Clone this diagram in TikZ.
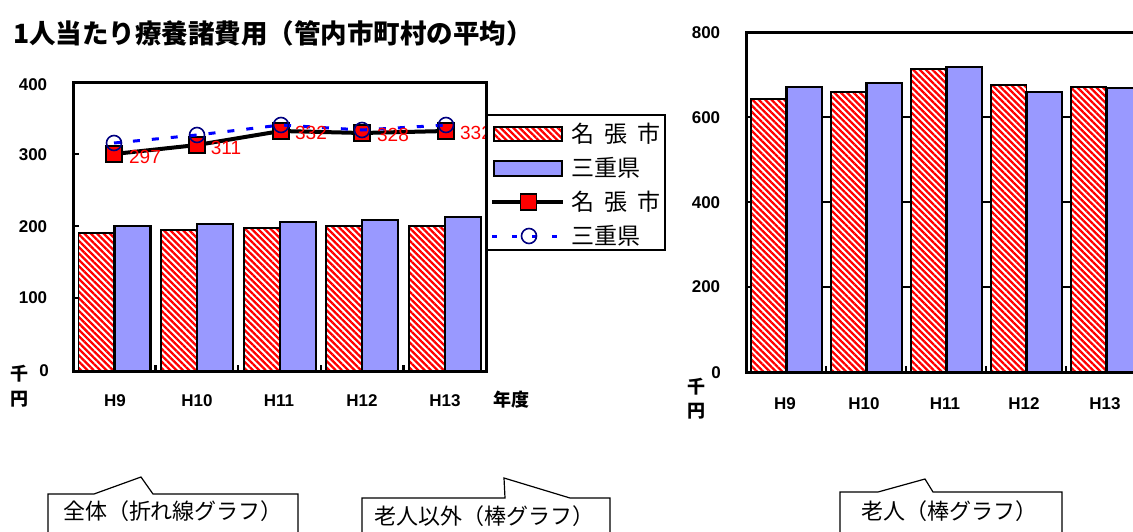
\documentclass[tikz,border=0pt]{standalone}
\usepackage{fontspec}
\usetikzlibrary{patterns.meta}
\newfontfamily\jp{Noto Sans CJK JP}
\newfontfamily\lab{Liberation Sans}
\definecolor{barblue}{HTML}{9999FF}
\definecolor{navyc}{HTML}{000080}
\tikzset{
  redbar/.style={preaction={fill=white}, pattern={Lines[angle=-45,distance=4.5pt,line width=2.3pt]}, pattern color=red, draw=black, line width=1.8pt},
  bluebar/.style={fill=barblue, draw=black, line width=2.2pt},
  axisline/.style={line width=3pt, line cap=rect},
  ticklab/.style={font=\lab\bfseries\fontsize{17}{17}\selectfont, inner sep=0},
  jplab/.style={font=\jp\bfseries\fontsize{18}{18}\selectfont, inner sep=0},
  datalab/.style={font=\lab\fontsize{19}{19}\selectfont, text=red, inner sep=0},
  legtext/.style={font=\jp\fontsize{23}{23}\selectfont, inner sep=0, anchor=west},
  callbox/.style={draw=black, line width=1.2pt, fill=white},
  calltext/.style={font=\jp\fontsize{22}{22}\selectfont, inner sep=0},
  sqmark/.style={rectangle, draw=black, fill=red, minimum size=16pt, inner sep=0, line width=1.8pt},
  circmark/.style={circle, draw=navyc, line width=1.6pt, minimum size=15pt, inner sep=0},
  blueline/.style={blue, line width=3pt, dash pattern=on 7pt off 12pt},
}
\begin{document}
\begin{tikzpicture}[x=1pt,y=-1pt]
\useasboundingbox (0,0) rectangle (1133,531);

% title
\node[font=\jp\bfseries\fontsize{26.5}{26.5}\selectfont, anchor=west, inner sep=0] (title) at (13,33) {1人当たり療養諸費用（管内市町村の平均）};

% ---------------- left chart ----------------
\foreach \i/\r/\b in {0/233/226,1/230/224,2/228/222,3/226/220,4/226/217}{
  \pgfmathsetmacro\xa{73+82.6*\i+5.5}
  \path[redbar] (\xa,371) rectangle (\xa+36,\r);
  \path[bluebar] (\xa+36,371) rectangle (\xa+72,\b);
}
\foreach \y in {154,226,298}{\draw[line width=2.5pt] (73,\y) -- (79,\y);}
\foreach \x in {155.6,238.2,320.8,403.4}{\draw[line width=2.5pt] (\x,371) -- (\x,365);}

% line series
\coordinate (n1) at (114,154); \coordinate (n2) at (197,145); \coordinate (n3) at (281,131);
\coordinate (n4) at (362,133); \coordinate (n5) at (446,131);
\coordinate (m1) at (114,143); \coordinate (m2) at (197,135); \coordinate (m3) at (281,125);
\coordinate (m4) at (362,130); \coordinate (m5) at (446,125);
\draw[line width=4pt] (n1) -- (n2) -- (n3) -- (n4) -- (n5);
\foreach \k in {1,...,5}{\node[sqmark] (sq\k) at (n\k) {};}
\draw[blueline] (m1) -- (m2) -- (m3) -- (m4) -- (m5);
\foreach \k in {1,...,5}{\node[circmark] (ci\k) at (m\k) {};}

\node[datalab] (d1) at (145,157) {297};
\node[datalab] (d2) at (226,148) {311};
\node[datalab] (d3) at (311,133) {332};
\node[datalab] (d4) at (393,135) {328};
\node[datalab] (d5) at (476,133) {332};

% frame
\draw[axisline] (73,82) rectangle (486,371);

% legend
\path[draw=black, line width=2pt, fill=white] (486,115) rectangle (665,250);
\draw[axisline] (486,82) -- (486,371);
\path[redbar] (494,127) rectangle (562,141);
\path[bluebar] (494,161) rectangle (562,176);
\draw[line width=4pt] (492,202) -- (563,202);
\node[sqmark] (lsq) at (528.5,202) {};
\draw[blue, line width=3pt, dash pattern=on 5pt off 15pt] (492,236) -- (563,236);
\node[circmark] (lci) at (529,236) {};
\node[legtext] (lt1) at (571,134) {名\hspace{10pt}張\hspace{10pt}市};
\node[legtext] (lt2) at (571,168) {三重県};
\node[legtext] (lt3) at (571,202) {名\hspace{10pt}張\hspace{10pt}市};
\node[legtext] (lt4) at (571,236) {三重県};

% left axis labels
\node[ticklab] (y400) at (33,85) {400};
\node[ticklab] (y300) at (33,155) {300};
\node[ticklab] (y200) at (33,227) {200};
\node[ticklab] (y100) at (33,298) {100};
\node[ticklab] (y0) at (44,371) {0};
\node[jplab] (sen1) at (19,374) {千};
\node[jplab] (en1) at (19,399) {円};
\node[ticklab] (h9) at (115,401) {H9};
\node[ticklab] (h10) at (197,401) {H10};
\node[ticklab] (h11) at (279,401) {H11};
\node[ticklab] (h12) at (362,401) {H12};
\node[ticklab] (h13) at (445,401) {H13};
\node[jplab] (nendo) at (511,400) {年度};

% ---------------- right chart ----------------
\foreach \y in {117,202,287}{\draw[line width=2.5pt] (746,\y) -- (1133,\y);}
\foreach \i/\r/\b in {0/99/87,1/92/83,2/69/67,3/85/92,4/87/88}{
  \pgfmathsetmacro\xa{746+80*\i+5}
  \path[redbar] (\xa,372) rectangle (\xa+35.5,\r);
  \path[bluebar] (\xa+35.5,372) rectangle (\xa+71,\b);
}
\foreach \x in {826,906,986,1066}{\draw[line width=2.5pt] (\x,372) -- (\x,366);}
\draw[line width=3pt] (1140,32) -- (746,32) -- (746,372) -- (1140,372);

\node[ticklab] (r800) at (706,33) {800};
\node[ticklab] (r600) at (706,118) {600};
\node[ticklab] (r400) at (706,203) {400};
\node[ticklab] (r200) at (706,287) {200};
\node[ticklab] (r0) at (716,373) {0};
\node[jplab] (sen2) at (696,387) {千};
\node[jplab] (en2) at (696,411) {円};
\node[ticklab] (rh9) at (785,404) {H9};
\node[ticklab] (rh10) at (864,404) {H10};
\node[ticklab] (rh11) at (945,404) {H11};
\node[ticklab] (rh12) at (1024,404) {H12};
\node[ticklab] (rh13) at (1105,404) {H13};

% ---------------- callouts ----------------
\path[callbox] (48,540) -- (48,494) -- (94,494) -- (141,477) -- (153,494) -- (298,494) -- (298,540);
\node[calltext] (c1) at (173,511) {全体（折れ線グラフ）};
\path[callbox] (362,540) -- (362,498) -- (505,498) -- (504,478) -- (570,498) -- (610,498) -- (610,540);
\node[calltext] (c2) at (484,516) {老人以外（棒グラフ）};
\path[callbox] (840,540) -- (840,492) -- (878,492) -- (925,479) -- (933,492) -- (1062,492) -- (1062,540);
\node[calltext] (c3) at (949,511) {老人（棒グラフ）};
\end{tikzpicture}
\end{document}
